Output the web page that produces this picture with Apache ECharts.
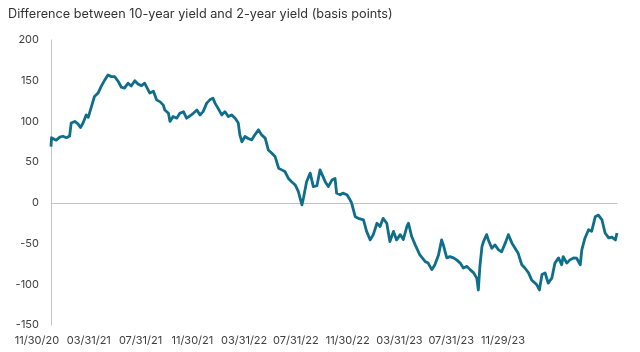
<!DOCTYPE html>
<html>
<head>
<meta charset="utf-8">
<script src="https://cdn.jsdelivr.net/npm/echarts@6/dist/echarts.min.js"></script>
<style>
html,body{margin:0;padding:0;background:#fff;}
#c{width:640px;height:352px;}
</style>
</head>
<body>
<div id="c"></div>
<script>
// Days since 11/30/20 for each reading
var dayOffsets = [0,1,4,10,17,23,30,36,39,46,52,57,62,68,72,78,84,91,97,104,110,117,123,130,136,142,149,155,162,168,175,181,186,191,198,204,211,217,220,227,230,236,243,249,256,262,269,275,282,288,294,301,307,313,317,323,330,336,343,349,356,362,365,369,375,381,388,394,401,407,414,420,427,433,440,446,452,459,465,472,478,485,488,494,501,507,514,520,523,530,536,543,549,552,559,564,572,578,581,588,594,604,610,617,623,630,636,642,649,655,662,668,675,681,688,691,697,704,713,723,729,736,742,749,755,758,765,771,778,784,791,797,804,810,817,823,826,829,833,836,842,845,852,858,865,871,878,884,891,897,903,910,916,923,929,939,944,949,955,961,968,974,981,987,990,997,1003,1010,1016,1023,1026,1032,1039,1045,1052,1058,1065,1071,1078,1084,1091,1094];
// 10y - 2y spread, basis points
var spread = [69,80,78.6,77,80.7,81.8,80,82,98,100,97,92.5,98,108,105,118,130.6,134.8,143,151,157,155,155,149,142,141,147,143.5,150,146,144,147,141,134.8,137,126.5,124,120,114,110,100,106,104,110,112,104,107,110,114,108,112,122.5,126.5,128.6,122.5,116,108,112,106,108,104,98,83.5,75,81.5,79,77.4,83.5,89.7,83.5,79.5,65,61,57,42.6,40.5,38.5,30,26,22,14,-2.5,6,26,36.5,20,21,40.5,42.6,26,20,28,30,12,10,12,10,3.7,0,-17,-19,-21,-35,-45.5,-39,-25,-29,-19,-25,-47.5,-35,-45.5,-39,-45,-29,-25,-41,-51.6,-64,-72,-74,-82,-76,-64,-45.5,-51,-67.6,-66,-67.6,-70,-74,-80,-78,-82,-86,-92.5,-107,-78,-53.7,-47.5,-39,-45,-55.7,-51.6,-57.7,-60,-49.5,-39,-49.5,-55.7,-62,-76,-80,-86,-94.6,-100.7,-107,-88,-86,-98.6,-92.5,-74,-67.6,-76,-66,-74,-70,-67.6,-68,-76,-57.7,-43.4,-33,-35,-17,-15,-21,-37,-43,-42,-45.5,-37];
var xTickLabels = ['11/30/20','03/31/21','07/31/21','11/30/21','03/31/22','07/31/22','11/30/22','03/31/23','07/31/23','11/29/23'];
var titleText = 'Difference between 10-year yield and 2-year yield (basis points)';

var seriesData = dayOffsets.map(function(d, i){ return [d, spread[i]]; });
var font = 'Inter, "Noto Sans", sans-serif';
var chart = echarts.init(document.getElementById('c'), null, {renderer:'canvas'});
chart.setOption({
  animation: false,
  backgroundColor: '#ffffff',
  title: {
    text: titleText, left: 3, top: 3,
    textStyle: {fontSize: 12.7, fontWeight: 'normal', color: '#333333', fontFamily: font}
  },
  grid: [
    {left: 51, right: 23, top: 40, bottom: 27},
    {left: 37, right: 137, top: 40, bottom: 27}
  ],
  xAxis: [
    {type: 'value', gridIndex: 0, min: 0, max: 1094,
     axisLine: {show: true, onZero: true, lineStyle: {color: '#c4c4c4', width: 1}},
     axisTick: {show: false}, axisLabel: {show: false}, splitLine: {show: false}},
    {type: 'category', gridIndex: 1, data: xTickLabels, boundaryGap: false,
     axisLine: {show: false}, axisTick: {show: false}, splitLine: {show: false},
     axisLabel: {show: true, interval: 0, margin: 10, fontSize: 11, color: '#404040', fontFamily: font}}
  ],
  yAxis: [
    {type: 'value', gridIndex: 0, min: -150, max: 200, interval: 50,
     axisLine: {show: true, onZero: false, lineStyle: {color: '#c4c4c4', width: 1}},
     axisTick: {show: false}, splitLine: {show: false},
     axisLabel: {margin: 12, fontSize: 11, color: '#404040', fontFamily: font}},
    {type: 'value', gridIndex: 1, show: false}
  ],
  series: [{
    type: 'line', xAxisIndex: 0, yAxisIndex: 0, data: seriesData,
    showSymbol: false, symbol: 'none',
    lineStyle: {color: '#0f6e8a', width: 2.8, join: 'round'}
  }]
});
</script>
</body>
</html>
